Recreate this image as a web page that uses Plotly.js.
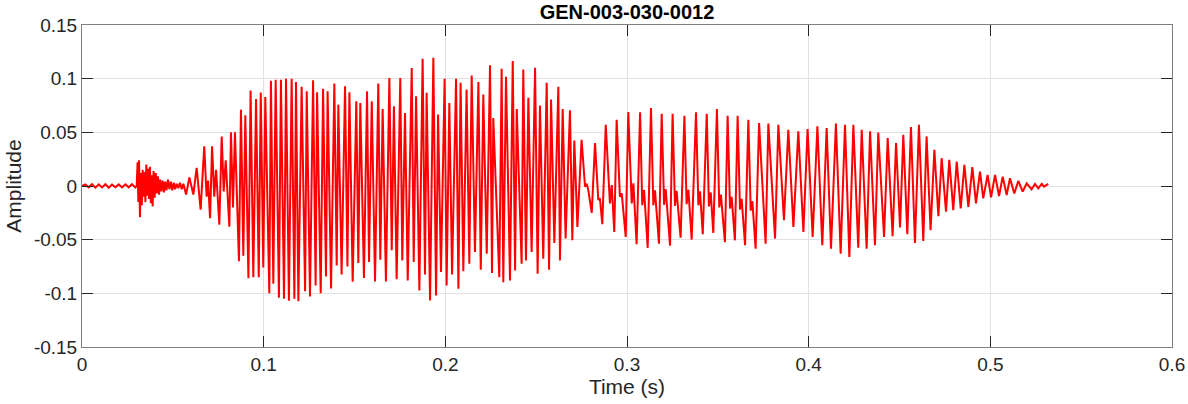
<!DOCTYPE html>
<html>
<head>
<meta charset="utf-8">
<script src="https://cdn.plot.ly/plotly-3.0.1.min.js"></script>
<style>html,body{margin:0;padding:0;background:#fff;}#chart{width:1188px;height:404px;}</style>
</head>
<body>
<div id="chart"></div>
<script>
// Extrema of the waveform (time in s, amplitude)
var noiseT = [0.0000, 0.0018, 0.0037, 0.0055, 0.0074, 0.0092, 0.0110, 0.0129, 0.0147, 0.0165, 0.0184, 0.0202, 0.0220, 0.0239, 0.0257, 0.0275, 0.0294];
var noiseA = [0.0000, 0.0015, -0.0012, 0.0018, -0.0015, 0.0016, -0.0013, 0.0017, -0.0016, 0.0014, -0.0012, 0.0015, -0.0014, 0.0016, -0.0012, 0.0017, -0.0015];

var burstT = [0.0301, 0.0306, 0.0310, 0.0314, 0.0319, 0.0324, 0.0329, 0.0334, 0.0339, 0.0344, 0.0349, 0.0354, 0.0359, 0.0364, 0.0369, 0.0374, 0.0379, 0.0384, 0.0389, 0.0394, 0.0400, 0.0406, 0.0412, 0.0418, 0.0424, 0.0430, 0.0437, 0.0444, 0.0451, 0.0458, 0.0465, 0.0473, 0.0481, 0.0489, 0.0497, 0.0505, 0.0513, 0.0521, 0.0530];
var burstA = [0.0000, 0.0220, -0.0150, 0.0240, -0.0290, 0.0120, -0.0180, 0.0150, -0.0100, 0.0130, -0.0150, 0.0200, -0.0090, 0.0160, -0.0120, 0.0180, -0.0160, 0.0100, -0.0190, 0.0140, -0.0110, 0.0120, -0.0070, 0.0090, -0.0080, 0.0060, -0.0050, 0.0050, -0.0060, 0.0040, -0.0040, 0.0060, -0.0030, 0.0040, -0.0040, 0.0030, -0.0030, 0.0020, -0.0020];

var onsetT = [0.0539, 0.0549, 0.0558, 0.0573, 0.0591, 0.0613, 0.0631, 0.0653, 0.0673, 0.0686, 0.0694, 0.0705, 0.0716, 0.0728, 0.0738, 0.0756, 0.0769, 0.0780, 0.0791, 0.0811, 0.0820, 0.0831, 0.0842, 0.0864, 0.0875, 0.0888, 0.0899, 0.0916, 0.0928, 0.0943, 0.0958, 0.0973, 0.0984, 0.0998, 0.1009, 0.1031, 0.1040, 0.1053, 0.1066, 0.1084, 0.1095, 0.1112, 0.1123, 0.1139, 0.1154, 0.1169];
var onsetA = [0.003, -0.003, 0.002, -0.008, 0.008, -0.008, 0.017, -0.022, 0.037, -0.010, 0.005, -0.030, 0.037, -0.010, 0.015, -0.036, 0.046, -0.005, 0.024, -0.038, 0.050, -0.020, 0.050, -0.070, 0.071, -0.065, 0.066, -0.086, 0.089, -0.085, 0.081, -0.085, 0.087, -0.076, 0.083, -0.100, 0.098, -0.091, 0.099, -0.104, 0.099, -0.105, 0.100, -0.107, 0.100, -0.105];

var vowel1T = [0.1178, 0.1191, 0.1209, 0.1228, 0.1237, 0.1255, 0.1272, 0.1286, 0.1294, 0.1314, 0.1327, 0.1343, 0.1352, 0.1371, 0.1389, 0.1402, 0.1411, 0.1429, 0.1448, 0.1461, 0.1472, 0.1490, 0.1510, 0.1521, 0.1532, 0.1552, 0.1569, 0.1580, 0.1595, 0.1613, 0.1631, 0.1642, 0.1655, 0.1673, 0.1692, 0.1705, 0.1717, 0.1732, 0.1752, 0.1763, 0.1778, 0.1793, 0.1815, 0.1826];
var vowel1A = [0.0968, -0.1074, 0.0924, -0.0980, 0.0883, -0.1030, 0.0986, -0.0927, 0.0874, -0.0999, 0.0905, -0.0843, 0.0883, -0.0955, 0.0955, -0.0740, 0.0758, -0.0824, 0.0930, -0.0749, 0.0874, -0.0893, 0.0790, -0.0718, 0.0774, -0.0858, 0.0883, -0.0708, 0.0790, -0.0890, 0.0955, -0.0687, 0.0718, -0.0890, 0.1005, -0.0599, 0.0743, -0.0868, 0.1005, -0.0693, 0.0680, -0.0880, 0.1099, -0.0708];

var vowel2T = [0.1839, 0.1857, 0.1875, 0.1888, 0.1897, 0.1916, 0.1934, 0.1949, 0.1960, 0.1976, 0.1996, 0.2007, 0.2022, 0.2037, 0.2059, 0.2072, 0.2084, 0.2099, 0.2117, 0.2132, 0.2145, 0.2163, 0.2182, 0.2195, 0.2209, 0.2228, 0.2246, 0.2257, 0.2264, 0.2297, 0.2310, 0.2319, 0.2334, 0.2356, 0.2371, 0.2384, 0.2393, 0.2420, 0.2429, 0.2444, 0.2457];
var vowel2A = [0.0836, -0.0974, 0.1186, -0.0824, 0.0868, -0.1067, 0.1195, -0.1021, 0.0665, -0.0802, 0.0999, -0.0927, 0.0774, -0.0824, 0.0999, -0.0958, 0.0961, -0.0793, 0.0899, -0.0724, 0.1030, -0.0615, 0.0968, -0.0780, 0.0852, -0.0630, 0.1124, -0.0811, 0.0634, -0.0849, 0.1092, -0.0896, 0.1017, -0.0880, 0.1164, -0.0787, 0.0718, -0.0724, 0.1086, -0.0693, 0.0821];

var vowel3T = [0.2475, 0.2494, 0.2508, 0.2521, 0.2539, 0.2558, 0.2571, 0.2582, 0.2600, 0.2622, 0.2631, 0.2646, 0.2662, 0.2686, 0.2699, 0.2710, 0.2727, 0.2750];
var vowel3A = [-0.0615, 0.1102, -0.0818, 0.0749, -0.0677, 0.0961, -0.0780, 0.0805, -0.0531, 0.0924, -0.0693, 0.0718, -0.0490, 0.0705, -0.0506, 0.0424, -0.0381, 0.0431];

var transT = [0.2769, 0.2778, 0.2787, 0.2806, 0.2824, 0.2842, 0.2851, 0.2864, 0.2883, 0.2906, 0.2916, 0.2930, 0.2943, 0.2961, 0.2971, 0.2993, 0.3007, 0.3026, 0.3035, 0.3053, 0.3072];
var transA = [-0.0006, 0.0020, -0.0040, -0.0250, 0.0400, -0.0131, -0.0115, -0.0356, 0.0571, -0.0162, 0.0009, -0.0428, 0.0618, -0.0100, -0.0069, -0.0474, 0.0690, -0.0162, 0.0025, -0.0543, 0.0687];

var vowel4T = [0.3084, 0.3094, 0.3114, 0.3132, 0.3145, 0.3154, 0.3176, 0.3191, 0.3204, 0.3213, 0.3237, 0.3251, 0.3264, 0.3273, 0.3295, 0.3316, 0.3328, 0.3338, 0.3356, 0.3380, 0.3393, 0.3402, 0.3417, 0.3439, 0.3451, 0.3461, 0.3475, 0.3495, 0.3508, 0.3517, 0.3539, 0.3554, 0.3567, 0.3576, 0.3594, 0.3609, 0.3622, 0.3631, 0.3650, 0.3668, 0.3681, 0.3690, 0.3708, 0.3727];
var vowel4A = [-0.0178, -0.0037, -0.0577, 0.0727, -0.0180, -0.0040, -0.0537, 0.0674, -0.0175, -0.0030, -0.0556, 0.0674, -0.0185, -0.0045, -0.0481, 0.0655, -0.0170, -0.0035, -0.0499, 0.0687, -0.0180, -0.0050, -0.0449, 0.0674, -0.0190, -0.0060, -0.0437, 0.0718, -0.0200, -0.0080, -0.0524, 0.0655, -0.0210, -0.0100, -0.0506, 0.0655, -0.0220, -0.0120, -0.0552, 0.0618, -0.0230, -0.0140, -0.0584, 0.0587];

var vowel5T = [0.3763, 0.3778, 0.3815, 0.3833, 0.3864, 0.3888, 0.3916, 0.3943, 0.3971, 0.3994, 0.4022, 0.4048, 0.4075, 0.4099, 0.4123, 0.4150, 0.4176, 0.4200, 0.4224, 0.4246, 0.4273, 0.4292, 0.4319, 0.4338, 0.4365, 0.4383, 0.4415, 0.4435, 0.4462, 0.4481, 0.4503, 0.4521, 0.4543, 0.4563, 0.4585, 0.4607, 0.4631, 0.4649, 0.4671, 0.4692, 0.4714];
var vowel5A = [-0.0537, 0.0581, -0.0490, 0.0571, -0.0318, 0.0524, -0.0381, 0.0509, -0.0428, 0.0531, -0.0474, 0.0556, -0.0552, 0.0540, -0.0584, 0.0581, -0.0630, 0.0571, -0.0662, 0.0571, -0.0574, 0.0524, -0.0584, 0.0509, -0.0552, 0.0499, -0.0474, 0.0446, -0.0468, 0.0400, -0.0387, 0.0478, -0.0449, 0.0549, -0.0531, 0.0571, -0.0512, 0.0462, -0.0412, 0.0337, -0.0281];

var decayT = [0.4732, 0.4756, 0.4774, 0.4796, 0.4815, 0.4837, 0.4857, 0.4879, 0.4901, 0.4921, 0.4943, 0.4961, 0.4985, 0.5004, 0.5026, 0.5048, 0.5068, 0.5090, 0.5108, 0.5132, 0.5154, 0.5178, 0.5200, 0.5227, 0.5246, 0.5264, 0.5283, 0.5295, 0.5319];
var decayA = [0.0259, -0.0240, 0.0243, -0.0225, 0.0228, -0.0209, 0.0197, -0.0194, 0.0175, -0.0162, 0.0134, -0.0115, 0.0103, -0.0106, 0.0103, -0.0094, 0.0087, -0.0084, 0.0072, -0.0069, 0.0047, -0.0053, 0.0025, -0.0031, 0.0019, -0.0022, 0.0019, -0.0006, 0.0019];

var xTickVals = [0, 0.1, 0.2, 0.3, 0.4, 0.5, 0.6];
var xTickText = ["0", "0.1", "0.2", "0.3", "0.4", "0.5", "0.6"];
var yTickVals = [-0.15, -0.1, -0.05, 0, 0.05, 0.1, 0.15];
var yTickText = ["-0.15", "-0.1", "-0.05", "0", "0.05", "0.1", "0.15"];

var titleText = "GEN-003-030-0012";
var xLabel = "Time (s)";
var yLabel = "Amplitude";

var t = [].concat(noiseT, burstT, onsetT, vowel1T, vowel2T, vowel3T, transT, vowel4T, vowel5T, decayT);
var a = [].concat(noiseA, burstA, onsetA, vowel1A, vowel2A, vowel3A, transA, vowel4A, vowel5A, decayA);

var FONT = '"Liberation Sans", Arial, Helvetica, sans-serif';
var axisCommon = {
  showline: true, mirror: 'ticks', linecolor: '#7f7f7f', linewidth: 1,
  ticks: 'inside', ticklen: 11, tickcolor: '#262626', tickwidth: 1,
  showgrid: true, gridcolor: '#e1e1e1', gridwidth: 1,
  zeroline: false, tickfont: {family: FONT, size: 19, color: '#262626'},
  tickmode: 'array'
};

var trace = {
  x: t, y: a, type: 'scatter', mode: 'lines',
  line: {color: '#ff0000', width: 2},
  hoverinfo: 'skip'
};

var layout = Object.assign({
  width: 1188, height: 404,
  margin: {l: 82, r: 16, t: 25, b: 57},
  paper_bgcolor: '#ffffff', plot_bgcolor: '#ffffff',
  showlegend: false,
  title: {text: titleText, font: {family: FONT, size: 20, color: '#000000', weight: 'bold'},
          x: 0.5, xanchor: 'center', xref: 'paper', y: 1 - 12 / 404, yref: 'container', yanchor: 'middle'},
  xaxis: Object.assign({}, axisCommon, {
    range: [0, 0.6], tickvals: xTickVals, ticktext: xTickText,
    title: {text: xLabel, font: {family: FONT, size: 21, color: '#262626'}, standoff: 2}
  }),
  yaxis: Object.assign({}, axisCommon, {
    range: [-0.15, 0.15], tickvals: yTickVals, ticktext: yTickText,
    title: {text: yLabel, font: {family: FONT, size: 21, color: '#262626'}, standoff: 6}
  })
});

Plotly.newPlot('chart', [trace], layout, {staticPlot: true, displayModeBar: false});
</script>
</body>
</html>
